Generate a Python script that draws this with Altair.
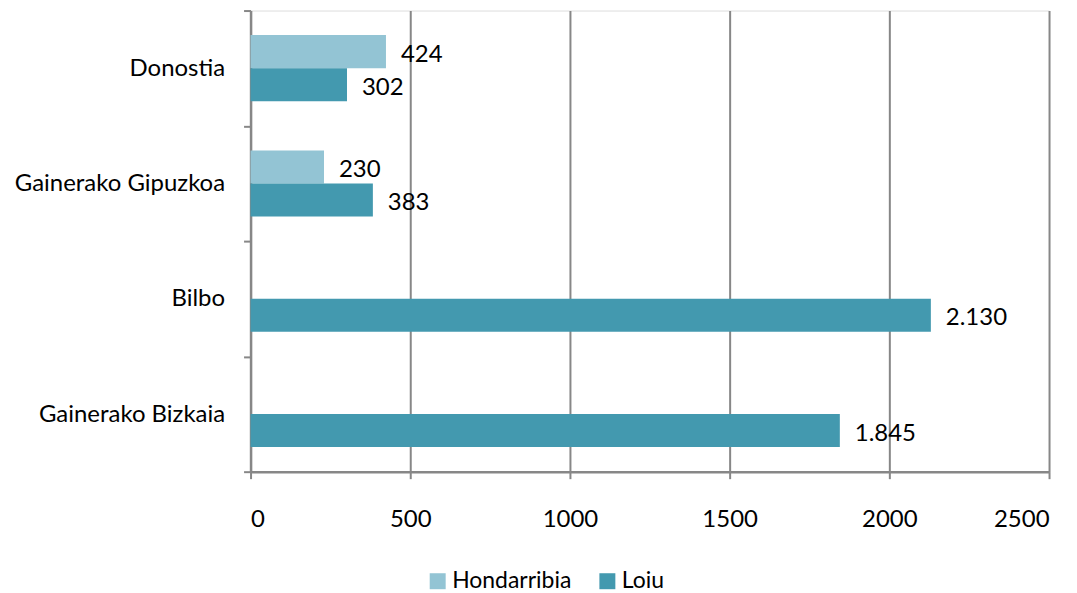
import altair as alt
import pandas as pd

categories = ["Donostia", "Gainerako Gipuzkoa", "Bilbo", "Gainerako Bizkaia"]
series = ["Hondarribia", "Loiu"]
hondarribia = [424, 230, None, None]
loiu = [302, 383, 2130, 1845]
x_ticks = [0, 500, 1000, 1500, 2000, 2500]
colors = ["#93C4D4", "#4399AF"]

rows = []
for c, h, l in zip(categories, hondarribia, loiu):
    for s, v in zip(series, [h, l]):
        if v is not None:
            rows.append({"cat": c, "serie": s, "value": v,
                         "label": f"{v:,}".replace(",", ".")})
df = pd.DataFrame(rows)

FONT = "Lato"
FS = 24
grid_color = "#878787"

y = alt.Y("cat:N", sort=categories, title=None,
          scale=alt.Scale(paddingInner=0, paddingOuter=0),
          axis=alt.Axis(tickBand="extent", tickSize=7, tickColor=grid_color, tickWidth=2,
                        domainColor=grid_color, domainWidth=2.5, labelFontSize=FS,
                        labelFont=FONT, labelColor="#000000", labelPadding=19,
                        labelLimit=400, grid=False))
yoff = alt.YOffset("serie:N", sort=series,
                   scale=alt.Scale(domain=series, paddingInner=0, paddingOuter=0.742))
x = alt.X("value:Q", title=None,
          scale=alt.Scale(domain=[0, 2500], nice=False),
          axis=alt.Axis(values=x_ticks, tickSize=7, tickColor=grid_color, tickWidth=2,
                        domainColor=grid_color, domainWidth=2.5, gridColor=grid_color,
                        gridWidth=2, gridOpacity=1, labelFontSize=FS, labelFont=FONT,
                        labelColor="#000000", labelPadding=29, format="d"))

bars = alt.Chart(df).mark_bar().encode(
    y=y, yOffset=yoff, x=x,
    color=alt.Color("serie:N", sort=series,
                    scale=alt.Scale(domain=series, range=colors),
                    legend=alt.Legend(title=None, orient="none", direction="horizontal",
                                      legendX=176, legendY=560, symbolType="square",
                                      symbolSize=256, symbolStrokeWidth=0,
                                      labelFontSize=23, labelFont=FONT,
                                      labelColor="#000000", labelOffset=3,
                                      columnPadding=24)),
)

text = alt.Chart(df).mark_text(align="left", baseline="middle", dx=15, dy=3,
                               fontSize=FS, font=FONT, color="#000000").encode(
    y=alt.Y("cat:N", sort=categories), yOffset=yoff, x=alt.X("value:Q"),
    text="label:N",
)

chart = (bars + text).properties(
    width=800, height=462,
    autosize=alt.AutoSizeParams(type="none"),
    padding={"left": 243, "top": 2, "right": 20, "bottom": 120},
).configure_view(stroke=None).configure(background="#ffffff")

chart.save("out.html", embed_options={"renderer": "svg", "actions": False})
